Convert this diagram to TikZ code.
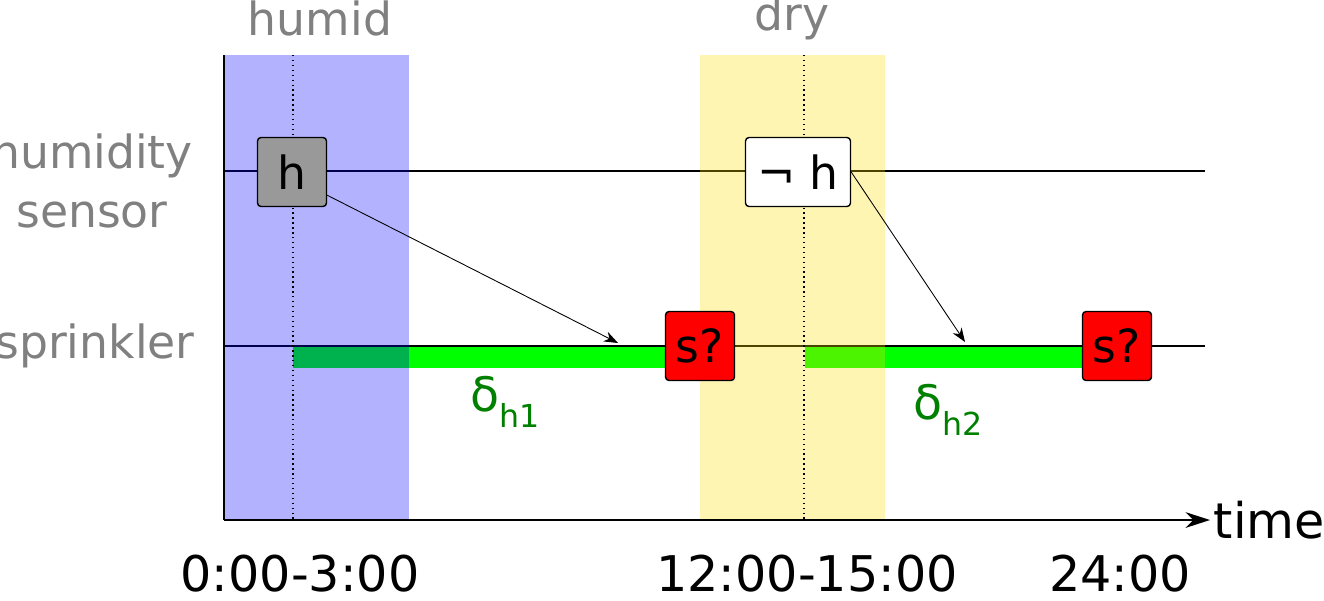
\documentclass[tikz,border=0pt]{standalone}
\usepackage{fontspec}
\setmainfont{DejaVu Sans}
\usetikzlibrary{positioning, arrows.meta}
\definecolor{lblgray}{RGB}{128,128,128}
\definecolor{dgreen}{RGB}{0,128,0}

\begin{document}
\begin{tikzpicture}[
    x=0.02cm, y=-0.02cm,
    rowlabel/.style={text=lblgray, font=\fontsize{26}{34}\selectfont, align=center},
    timelabel/.style={font=\fontsize{28}{30}\selectfont},
    eventbox/.style={draw, rounded corners=2pt, line width=0.8pt, minimum width=1.38cm, minimum height=1.38cm, font=\fontsize{26}{28}\selectfont, inner sep=2pt},
    thinarrow/.style={-{Stealth[length=8pt]}, line width=0.5pt}
]
    \useasboundingbox (0,0) rectangle (1324,600);

    % green duration bars
    \fill[green] (293,346) rectangle (665,368);
    \fill[green] (805,346) rectangle (1085,368);

    % timelines
    \coordinate (hs) at (224,171);
    \coordinate (he) at (1205,171);
    \coordinate (ss) at (224,346);
    \coordinate (se) at (1205,346);
    \draw[line width=0.6pt] (hs) -- (he);
    \draw[line width=0.6pt] (ss) -- (se);

    % humid / dry periods
    \fill[blue, opacity=0.3] (224,55) rectangle (409,520);
    \fill[yellow!80!orange, opacity=0.3] (700,55) rectangle (885,520);
    \draw[dotted, line width=0.8pt] (293,55) -- (293,520);
    \draw[dotted, line width=0.8pt] (804,55) -- (804,520);

    % axes
    \coordinate (origin) at (224,520);
    \coordinate (top) at (224,55);
    \coordinate (tend) at (1210,520);
    \draw[line width=1pt] (top) -- (origin);
    \draw[line width=1pt, -{Stealth[length=14pt, width=9pt]}] (origin) -- (tend);
    \node[timelabel, anchor=west, inner sep=2pt] (time) at (tend) {time};

    % events
    \node[eventbox, fill=gray!80] (h) at (292,172) {h};
    \node[eventbox, fill=white, minimum width=2.1cm] (noth) at (798,172) {¬ h};
    \node[eventbox, fill=red] (s1) at (700,346) {s?};
    \node[eventbox, fill=red] (s2) at (1117,346) {s?};

    \coordinate (a1) at (618,343);
    \coordinate (a2) at (965,342);
    \draw[thinarrow] (h.south east) ++(0,-12) -- (a1);
    \draw[thinarrow] (noth.east) -- (a2);

    % deltas
    \node[text=dgreen, font=\fontsize{27}{30}\selectfont] (d1) at (505,402) {δ\raisebox{-0.35em}{\fontsize{18}{20}\selectfont h1}};
    \node[text=dgreen, font=\fontsize{27}{30}\selectfont] (d2) at (948,410) {δ\raisebox{-0.35em}{\fontsize{18}{20}\selectfont h2}};

    % labels
    \node[rowlabel] (humid) at (320,18) {humid};
    \node[rowlabel] (dry) at (792,18) {dry};
    \node[rowlabel] (sensor) at (92,181) {humidity\\sensor};
    \node[rowlabel] (sprinkler) at (95,346) {sprinkler};
    \node[timelabel] (t0) at (300,574) {0:00-3:00};
    \node[timelabel] (t12) at (807,574) {12:00-15:00};
    \node[timelabel] (t24) at (1120,574) {24:00};
\end{tikzpicture}
\end{document}
